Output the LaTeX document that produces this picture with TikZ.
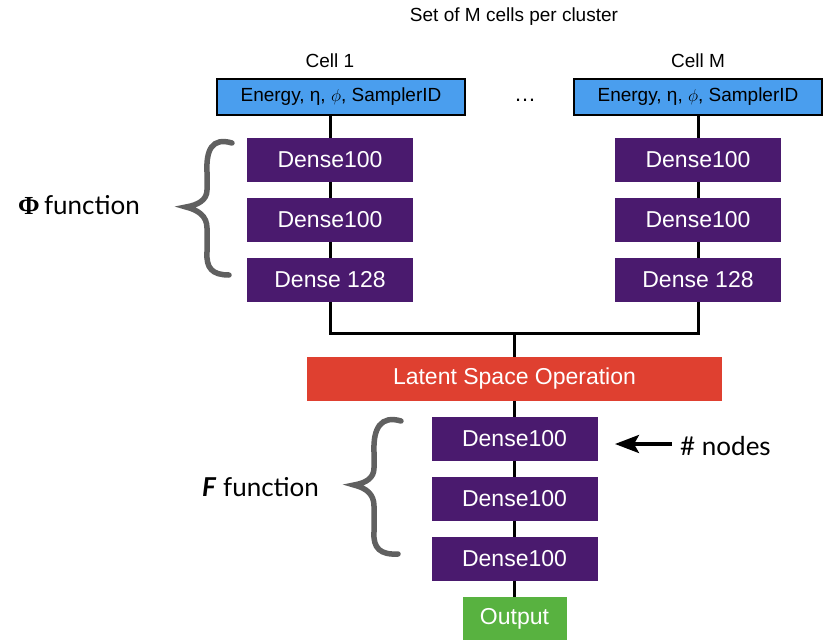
\documentclass[tikz,border=0pt]{standalone}
\usepackage{fontspec}
\setmainfont{Liberation Sans}
\newfontfamily\latofont{Lato}
\newfontfamily\seriffont{Liberation Serif}
\usetikzlibrary{arrows.meta}
\definecolor{cellblue}{HTML}{4A9EEE}
\definecolor{densepurple}{HTML}{4A1A6E}
\definecolor{latentred}{HTML}{DF4030}
\definecolor{outgreen}{HTML}{58B240}
\definecolor{bracegray}{HTML}{606060}
\tikzset{
  inbox/.style={draw=black, line width=2.5pt, fill=cellblue, minimum width=248pt, minimum height=36pt, inner sep=0pt, font=\fontsize{19}{22}\selectfont},
  densebox/.style={fill=densepurple, text=white, minimum width=166pt, minimum height=44pt, inner sep=0pt, font=\fontsize{23}{26}\selectfont},
  latentbox/.style={fill=latentred, text=white, minimum width=415pt, minimum height=44pt, inner sep=0pt, font=\fontsize{23}{26}\selectfont},
  outbox/.style={fill=outgreen, text=white, minimum width=104pt, minimum height=43pt, inner sep=0pt, font=\fontsize{23}{26}\selectfont},
  plain/.style={inner sep=0pt, font=\fontsize{19}{22}\selectfont},
  lato/.style={inner sep=0pt, font=\latofont\fontsize{26}{30}\selectfont},
  conn/.style={line width=3pt, black},
  curly/.style={line width=5.5pt, bracegray, line cap=round}
}
\begin{document}
\begin{tikzpicture}[x=1pt,y=-1pt]
\useasboundingbox (0,0) rectangle (823,640);
% titles
\node[plain] (title) at (514,17) {Set of M cells per cluster};
\node[plain] (cell1) at (330,61) {Cell 1};
\node[plain] (cellM) at (698,61) {Cell M};
\node[plain, font=\fontsize{22}{24}\selectfont] (dots) at (525,100) {\dots};
% left column
\node[inbox] (inL) at (341,97) {Energy, η, $\phi$, SamplerID};
\node[densebox] (l1) at (330,160) {Dense100};
\node[densebox] (l2) at (330,220) {Dense100};
\node[densebox] (l3) at (330,280) {Dense 128};
% right column
\node[inbox] (inR) at (698,97) {Energy, η, $\phi$, SamplerID};
\node[densebox] (r1) at (698,160) {Dense100};
\node[densebox] (r2) at (698,220) {Dense100};
\node[densebox] (r3) at (698,280) {Dense 128};
% latent and F
\node[latentbox] (lat) at (514.5,379) {Latent Space Operation};
\node[densebox] (f1) at (514.5,439) {Dense100};
\node[densebox] (f2) at (514.5,499) {Dense100};
\node[densebox] (f3) at (514.5,559) {Dense100};
\node[outbox] (out) at (514.5,618.5) {Output};
\coordinate (j) at (514.5,333);
\coordinate (inLb) at (330,115);
% connectors
\draw[conn] (inLb) -- (l1);
\draw[conn] (l1) -- (l2);
\draw[conn] (l2) -- (l3);
\draw[conn] (inR) -- (r1);
\draw[conn] (r1) -- (r2);
\draw[conn] (r2) -- (r3);
\draw[conn] (l3.south) |- (j);
\draw[conn] (r3.south) |- (j);
\draw[conn] (j) -- (lat);
\draw[conn] (lat) -- (f1);
\draw[conn] (f1) -- (f2);
\draw[conn] (f2) -- (f3);
\draw[conn] (f3) -- (out);
% labels
\node[lato, anchor=west] (phi) at (18,205) {{\seriffont\bfseries Φ}\,function};
\node[lato, anchor=west] (ff) at (202,487) {\textbf{\textit{F}} function};
\node[lato, anchor=west] (nodes) at (680,446) {\# nodes};
\coordinate (arrtip) at (615,444);
\draw[line width=3.5pt, -{Stealth[length=24pt,width=18pt,inset=5pt]}] (nodes.west) ++(-8,-2) coordinate (arrtail) -- (arrtip);
% braces
\draw[curly] (232,143) .. controls (212,137) and (206,150) .. (207,172)
  -- (207,190) .. controls (207,200) and (198,205) .. (186,207)
  .. controls (198,210) and (207,216) .. (207,228)
  -- (207,252) .. controls (206,268) and (212,275) .. (229,275);
\draw[curly] (401,421) .. controls (381,415) and (373,428) .. (374,452)
  -- (374,468) .. controls (374,478) and (366,483) .. (354,485)
  .. controls (366,488) and (374,494) .. (374,506)
  -- (374,532) .. controls (373,548) and (380,555) .. (398,554);
\end{tikzpicture}
\end{document}
